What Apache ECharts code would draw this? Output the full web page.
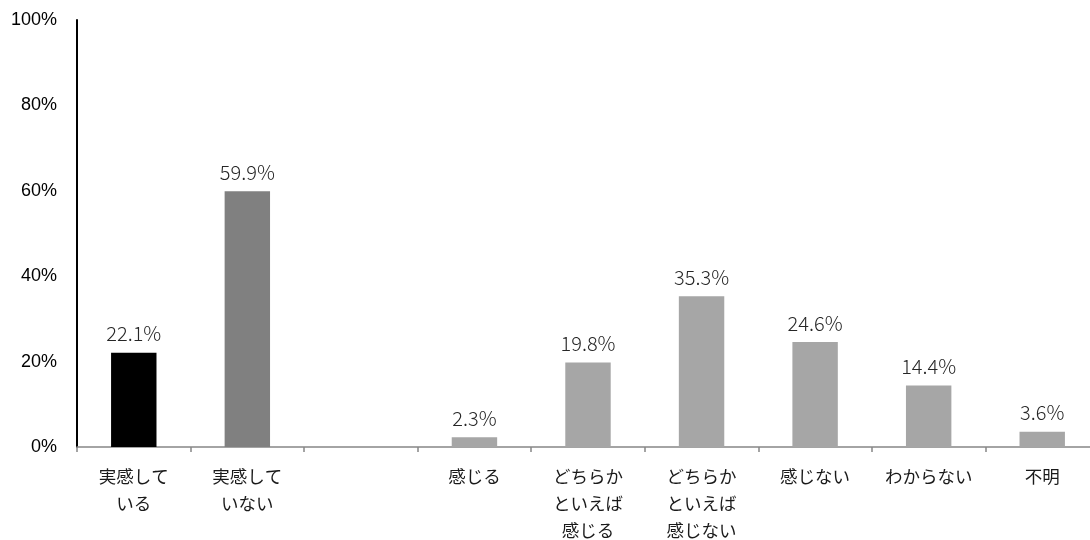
<!DOCTYPE html>
<html>
<head>
<meta charset="utf-8">
<title>実感の有無</title>
<script src="https://cdn.jsdelivr.net/npm/echarts@6/dist/echarts.min.js"></script>
<style>
  html, body { margin: 0; padding: 0; background: #ffffff; }
  #chart { width: 1090px; height: 540px; }
</style>
</head>
<body>
<div id="chart"></div>
<script>
// Categories (blank slot separates the two question groups)
const categories = [
  '実感して\nいる',
  '実感して\nいない',
  '',
  '感じる',
  'どちらか\nといえば\n感じる',
  'どちらか\nといえば\n感じない',
  '感じない',
  'わからない',
  '不明'
];

// Percentages per category (null = empty slot)
const values = [22.1, 59.9, null, 2.3, 19.8, 35.3, 24.6, 14.4, 3.6];

// Y-axis tick labels
const yTicks = [0, 20, 40, 60, 80, 100];

// Bar fill per category
const barColors = ['#000000', '#808080', '#a6a6a6', '#a6a6a6', '#a6a6a6', '#a6a6a6', '#a6a6a6', '#a6a6a6', '#a6a6a6'];

const chart = echarts.init(document.getElementById('chart'), null, { renderer: 'canvas' });

chart.setOption({
  animation: false,
  backgroundColor: '#ffffff',
  // plot area runs slightly past the right edge of the canvas
  grid: { left: 77, top: 20, width: 1022, bottom: 93, containLabel: false, outerBoundsMode: 'none' },
  xAxis: {
    type: 'category',
    data: categories,
    axisLine: { show: true, lineStyle: { color: '#868686', width: 1.5 } },
    axisTick: { show: true, length: 5, alignWithLabel: false, lineStyle: { color: '#868686', width: 1.5 } },
    axisLabel: {
      interval: 0,
      margin: 16,
      fontFamily: '"Noto Sans CJK JP", sans-serif',
      fontSize: 17.5,
      lineHeight: 27,
      color: '#1a1a1a'
    }
  },
  yAxis: {
    type: 'value',
    min: yTicks[0],
    max: yTicks[yTicks.length - 1],
    interval: yTicks[1] - yTicks[0],
    axisLine: { show: true, lineStyle: { color: '#000000', width: 2 } },
    axisTick: { show: false },
    splitLine: { show: false },
    axisLabel: {
      margin: 20,
      fontFamily: '"Liberation Sans", Arial, sans-serif',
      fontSize: 18,
      color: '#000000',
      formatter: v => v + '%'
    }
  },
  series: [{
    type: 'bar',
    barWidth: '40%',
    data: values.map((v, i) => ({
      value: v === null ? '-' : v,
      itemStyle: { color: barColors[i] }
    })),
    label: {
      show: true,
      position: 'top',
      distance: 9,
      fontFamily: '"Noto Sans CJK JP", sans-serif',
      fontWeight: 300,
      fontSize: 20,
      color: '#262626',
      formatter: p => p.value.toFixed(1) + '%'
    }
  }]
});
</script>
</body>
</html>
